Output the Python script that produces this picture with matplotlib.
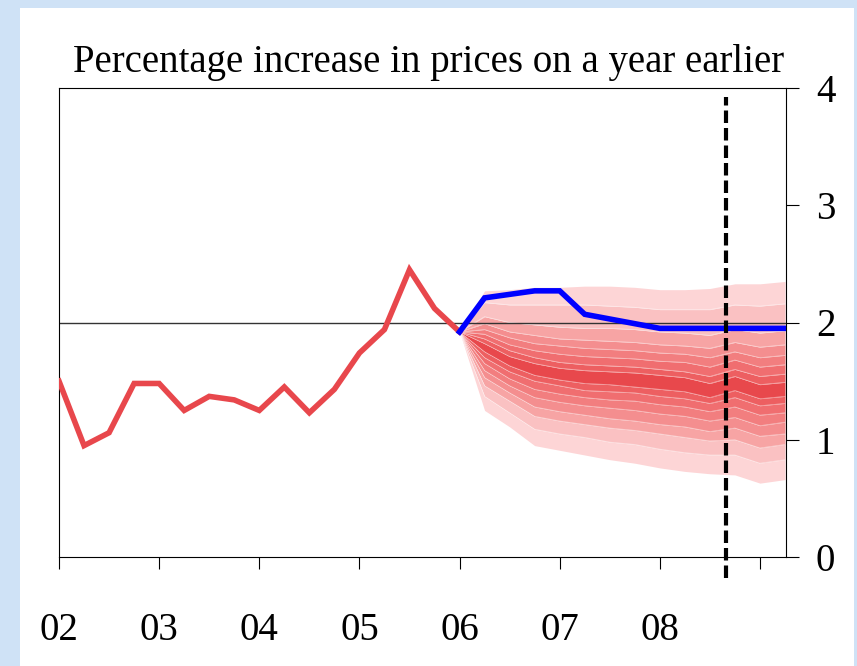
import matplotlib
matplotlib.use('Agg')
import matplotlib.pyplot as plt
from matplotlib.patches import Rectangle

plt.rcParams['font.family'] = ['Liberation Serif', 'DejaVu Serif']

# quarterly outturns, 2002 Q1 .. 2006 Q1
t_hist = [2002 + 0.25 * i for i in range(17)]
cpi_hist = [1.50, 0.95, 1.06, 1.48, 1.48, 1.25, 1.37, 1.34, 1.25,
            1.45, 1.23, 1.43, 1.74, 1.94, 2.45, 2.12, 1.92]

# projection period, 2006 Q1 .. 2009 Q2
t_fan = [2006 + 0.25 * i for i in range(14)]
market_path = [1.92, 2.21, 2.24, 2.27, 2.27, 2.07, 2.03, 1.99,
               1.95, 1.95, 1.95, 1.95, 1.95, 1.95]

# fan band edges, inner -> outer
hi1 = [1.92, 1.82, 1.71, 1.65, 1.61, 1.59, 1.58, 1.57, 1.55, 1.53, 1.48, 1.54, 1.47, 1.49]
hi2 = [1.92, 1.86, 1.76, 1.70, 1.66, 1.64, 1.63, 1.62, 1.60, 1.58, 1.54, 1.60, 1.54, 1.56]
hi3 = [1.92, 1.90, 1.81, 1.76, 1.73, 1.71, 1.70, 1.69, 1.67, 1.66, 1.62, 1.68, 1.62, 1.64]
hi4 = [1.92, 1.94, 1.87, 1.82, 1.80, 1.78, 1.77, 1.76, 1.74, 1.73, 1.70, 1.75, 1.70, 1.72]
hi5 = [1.92, 1.99, 1.92, 1.89, 1.86, 1.85, 1.84, 1.83, 1.81, 1.80, 1.78, 1.83, 1.79, 1.81]
hi6 = [1.92, 2.05, 2.00, 1.98, 1.96, 1.95, 1.95, 1.94, 1.92, 1.91, 1.89, 1.94, 1.91, 1.93]
hi7 = [1.92, 2.17, 2.15, 2.15, 2.15, 2.15, 2.14, 2.13, 2.11, 2.11, 2.11, 2.15, 2.14, 2.16]
hi8 = [1.92, 2.27, 2.28, 2.30, 2.30, 2.31, 2.31, 2.30, 2.28, 2.28, 2.29, 2.33, 2.33, 2.35]

lo1 = [1.92, 1.75, 1.63, 1.55, 1.51, 1.48, 1.47, 1.45, 1.43, 1.41, 1.36, 1.42, 1.35, 1.37]
lo2 = [1.92, 1.70, 1.58, 1.50, 1.46, 1.42, 1.41, 1.40, 1.37, 1.35, 1.31, 1.36, 1.29, 1.31]
lo3 = [1.92, 1.65, 1.52, 1.43, 1.39, 1.36, 1.34, 1.33, 1.30, 1.28, 1.24, 1.28, 1.21, 1.23]
lo4 = [1.92, 1.59, 1.46, 1.36, 1.32, 1.29, 1.27, 1.25, 1.22, 1.20, 1.16, 1.19, 1.12, 1.15]
lo5 = [1.92, 1.53, 1.40, 1.28, 1.24, 1.21, 1.18, 1.16, 1.13, 1.11, 1.07, 1.10, 1.03, 1.05]
lo6 = [1.92, 1.46, 1.33, 1.20, 1.16, 1.13, 1.10, 1.08, 1.05, 1.02, 0.99, 1.00, 0.93, 0.96]
lo7 = [1.92, 1.37, 1.23, 1.09, 1.05, 1.02, 0.98, 0.96, 0.92, 0.89, 0.87, 0.87, 0.80, 0.83]
lo8 = [1.92, 1.25, 1.11, 0.95, 0.91, 0.87, 0.83, 0.80, 0.76, 0.73, 0.71, 0.70, 0.63, 0.66]

band_colors = ['#ed5f61', '#f06e70', '#f27e7f', '#f48e8f', '#f7a4a4',
               '#fac1c2', '#fdd5d6']
central_color = '#e8484c'

year_ticks = [2002, 2003, 2004, 2005, 2006, 2007, 2008, 2009]
year_labels = ['02', '03', '04', '05', '06', '07', '08', '']
y_ticks = [0, 1, 2, 3, 4]
forecast_start = 2008.66
target = 2

fig = plt.figure(figsize=(8.57, 6.66), dpi=100)
fig.patch.set_facecolor('#cfe2f6')
fig.add_artist(Rectangle((20 / 857, 0), 834 / 857, 658 / 666,
                         transform=fig.transFigure, facecolor='white',
                         edgecolor='none', zorder=0))

ax = fig.add_axes([59 / 857, 1 - 557 / 666, 727 / 857, 469 / 666])
ax.set_facecolor('white')

# fan
uppers = [hi1, hi2, hi3, hi4, hi5, hi6, hi7, hi8]
lowers = [lo1, lo2, lo3, lo4, lo5, lo6, lo7, lo8]
ax.fill_between(t_fan, lo1, hi1, color=central_color, lw=0, zorder=1)
for i in range(7):
    ax.fill_between(t_fan, uppers[i], uppers[i + 1], color=band_colors[i],
                    lw=0, zorder=1)
    ax.fill_between(t_fan, lowers[i + 1], lowers[i], color=band_colors[i],
                    lw=0, zorder=1)
for edge in uppers[:-1] + lowers[:-1]:
    ax.plot(t_fan, edge, color='white', lw=0.5, alpha=0.5, zorder=1.5)

ax.axhline(target, color='#333333', lw=1.0, zorder=2)

ax.plot(t_hist, cpi_hist, color='#e8474c', lw=4.0, zorder=3,
        solid_joinstyle='miter')
ax.plot(t_fan, market_path, color='#0000ff', lw=4.0, zorder=3,
        solid_joinstyle='miter')

ax.axvline(forecast_start, ymin=-0.045, ymax=0.98, color='black', lw=3.0,
           dashes=(3, 1.2), clip_on=False, zorder=4)

ax.set_xlim(2002, 2009.26)
ax.set_ylim(0, 4)

ax.yaxis.tick_right()
ax.set_yticks(y_ticks)
ax.set_xticks(year_ticks)
ax.set_xticklabels(year_labels)
ax.tick_params(axis='y', direction='out', length=9.5, width=0.8,
               labelsize=28, pad=12)
ax.tick_params(axis='x', direction='out', length=8.6, width=0.8,
               labelsize=28, pad=31)
for s in ax.spines.values():
    s.set_linewidth(0.8)

fig.text(0.5, 1 - 72 / 666, 'Percentage increase in prices on a year earlier',
         ha='center', va='baseline', fontsize=28)

fig.savefig('out.png', dpi=100, facecolor=fig.get_facecolor())
